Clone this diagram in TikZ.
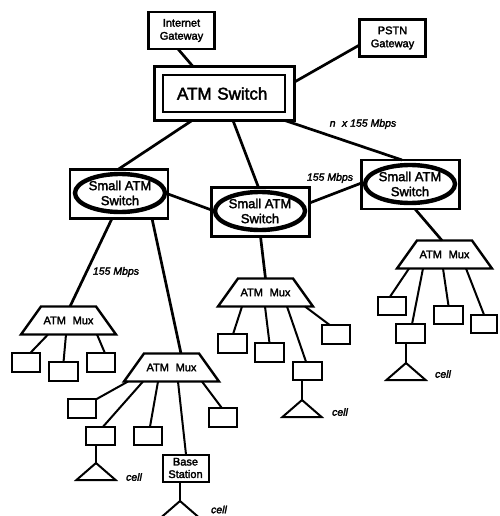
\documentclass[tikz,border=0pt]{standalone}
\usepackage{fontspec}
\setmainfont[FakeBold=2.4]{Liberation Sans}
\usetikzlibrary{shapes.geometric}
\tikzset{
  every node/.style={inner sep=0pt,outer sep=0pt,align=center},
  gatebox/.style={draw,line width=2.3pt,minimum width=66pt,minimum height=37pt,font=\fontsize{11}{13}\selectfont},
  plainbox/.style={draw,line width=2pt,minimum width=28.5pt,minimum height=18.5pt},
  basebox/.style={draw,line width=2pt,minimum width=46pt,minimum height=27pt,font=\fontsize{11}{12.5}\selectfont},
  swbox/.style={draw,line width=2.2pt,minimum width=98pt,minimum height=49pt},
  swell/.style={draw,ellipse,line width=4.4pt,minimum width=90pt,minimum height=38pt,font=\fontsize{13}{15}\selectfont},
  muxnode/.style={minimum width=95pt,minimum height=28pt,font=\fontsize{11}{12}\selectfont},
  muxline/.style={draw,line width=2.4pt,line join=miter},
  cellnode/.style={draw,isosceles triangle,isosceles triangle apex angle=98,shape border rotate=90,line width=2pt,minimum height=17pt,anchor=apex},
  rate/.style={font=\fontsize{10.5}{12}\itshape\selectfont},
  mainlink/.style={line width=2.7pt},
  sublink/.style={line width=2pt}
}
\newcommand{\muxoutline}[1]{\path[muxline] ([xshift=20pt]#1.north west) -- ([xshift=-20pt]#1.north east) -- (#1.south east) -- (#1.south west) -- cycle;}
\begin{document}
\begin{tikzpicture}[x=1pt,y=-1pt]
\useasboundingbox (0,0) rectangle (499,516);
% top
\node[gatebox] (ig) at (181.5,30.5) {Internet\\Gateway};
\node[gatebox] (pg) at (392.5,38) {PSTN\\Gateway};
\node[draw,line width=2.4pt,minimum width=140pt,minimum height=54pt] (ao) at (224.5,93.5) {};
\node[draw,line width=2.2pt,minimum width=122pt,minimum height=37pt,font=\fontsize{17}{20}\selectfont,text width=94pt,align=left] (ai) at (224,93.5) {ATM Switch};
% small switches
\node[swbox] (sl) at (119,194) {};
\node[swell] (el) at (120,193) {Small ATM\\Switch};
\node[swbox] (sc) at (260.5,212) {};
\node[swell] (ec) at (260,211) {Small ATM\\Switch};
\node[swbox] (sr) at (410.5,184.5) {};
\node[swell] (er) at (410,184) {Small ATM\\Switch};
% muxes
\node[muxnode] (lm) at (68.5,320.5) {ATM\,\, Mux};
\muxoutline{lm}
\node[muxnode] (om) at (171.5,367.5) {ATM\,\, Mux};
\muxoutline{om}
\node[muxnode] (cm) at (265.5,292.5) {ATM\,\, Mux};
\muxoutline{cm}
\node[muxnode] (rm) at (444.5,254.5) {ATM\,\, Mux};
\muxoutline{rm}
% plain boxes
\node[plainbox] (l1) at (26,362.5) {};
\node[plainbox] (l2) at (63.5,371.5) {};
\node[plainbox] (l3) at (101,362.5) {};
\node[plainbox] (o1) at (82,408.5) {};
\node[plainbox] (o2) at (100.5,436) {};
\node[plainbox] (o3) at (148,436) {};
\node[plainbox] (o4) at (223,417.5) {};
\node[basebox] (bs) at (185.5,468) {Base\\Station};
\node[plainbox] (c1) at (232.5,343.5) {};
\node[plainbox] (c2) at (269.5,352.5) {};
\node[plainbox] (c3) at (307.5,371) {};
\node[plainbox] (c4) at (336,334.5) {};
\node[plainbox] (r1) at (392,306) {};
\node[plainbox] (r2) at (410.5,333.5) {};
\node[plainbox] (r3) at (448.5,315) {};
\node[plainbox,minimum width=26pt] (r4) at (484,324) {};
% cells
\node[cellnode] (t1) at (96,463) {};
\node[cellnode] (t2) at (180,501) {};
\node[cellnode] (t3) at (302,400) {};
\node[cellnode] (t4) at (406,363) {};
% main connectors
\draw[mainlink] ([xshift=-3.5pt]ig.south) -- ([xshift=-31.5pt]ao.north);
\draw[mainlink] ([yshift=-7pt]pg.west) -- ([yshift=11.5pt]ao.east);
\draw[mainlink] ([xshift=-32.5pt]ao.south) -- ([xshift=-1pt]sl.north);
\draw[mainlink] ([xshift=8.5pt]ao.south) -- ([xshift=-2pt]sc.north);
\draw[mainlink] ([xshift=60.5pt]ao.south) -- ([xshift=-8.5pt]sr.north);
\draw[mainlink] (sl.east) -- ([yshift=2pt]sc.west);
\draw[mainlink] ([yshift=9pt]sc.east) -- ([yshift=1.5pt]sr.west);
\draw[mainlink] ([xshift=-7pt]sl.south) -- ([xshift=1.5pt]lm.north);
\draw[mainlink] ([xshift=33pt]sl.south) -- ([xshift=9.5pt]om.north);
\draw[mainlink] (sc.south) -- (cm.north);
\draw[mainlink] ([xshift=4.5pt]sr.south) -- ([xshift=-2.5pt]rm.north);
% lower connectors
\draw[sublink] ([xshift=-20.5pt]lm.south) -- ([xshift=4pt]l1.north);
\draw[sublink] ([xshift=-2.5pt]lm.south) -- (l2.north);
\draw[sublink] ([xshift=28.5pt]lm.south) -- ([xshift=4pt]l3.north);
\draw[sublink] ([xshift=-43.5pt]om.south) -- (o1.north east);
\draw[sublink] ([xshift=-28.5pt]om.south) -- ([xshift=2.5pt]o2.north);
\draw[sublink] ([xshift=-13.5pt]om.south) -- ([xshift=2pt]o3.north);
\draw[sublink] ([xshift=6.5pt]om.south) -- ([xshift=0.5pt]bs.north);
\draw[sublink] ([xshift=30.5pt]om.south) -- ([xshift=-1pt]o4.north);
\draw[sublink] ([xshift=-4.5pt]o2.south) -- (t1.apex);
\draw[sublink] ([xshift=-5.5pt]bs.south) -- (t2.apex);
\draw[sublink] ([xshift=-23.5pt]cm.south) -- ([xshift=0.5pt]c1.north);
\draw[sublink] ([xshift=-0.5pt]cm.south) -- (c2.north);
\draw[sublink] ([xshift=21.5pt]cm.south) -- ([xshift=-1.5pt]c3.north);
\draw[sublink] ([xshift=39.5pt]cm.south) -- ([xshift=-6pt]c4.north);
\draw[sublink] ([xshift=-5.5pt]c3.south) -- (t3.apex);
\draw[sublink] ([xshift=-35.5pt]rm.south) -- ([xshift=-2pt]r1.north);
\draw[sublink] ([xshift=-21.5pt]rm.south) -- ([xshift=1.5pt]r2.north);
\draw[sublink] ([xshift=-1.5pt]rm.south) -- (r3.north);
\draw[sublink] ([xshift=21.5pt]rm.south) -- (r4.north);
\draw[sublink] ([xshift=-4.5pt]r2.south) -- (t4.apex);
% labels
\node[rate] (rn) at (363,124) {n\,\, x 155 Mbps};
\node[rate] (rc) at (330,178) {155 Mbps};
\node[rate] (rl) at (116,272) {155 Mbps};
\node[rate] (cl1) at (134,477) {cell};
\node[rate] (cl2) at (219,509.5) {cell};
\node[rate] (cl3) at (340,412) {cell};
\node[rate] (cl4) at (443,374) {cell};
\end{tikzpicture}
\end{document}
